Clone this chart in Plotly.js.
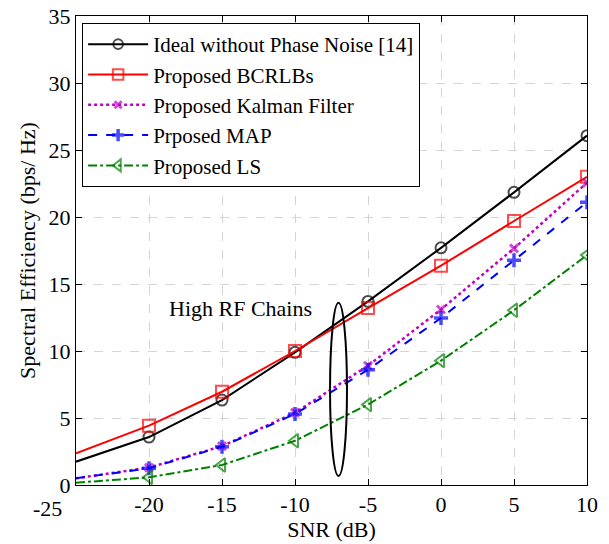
<!DOCTYPE html>
<html>
<head>
<meta charset="utf-8">
<script src="https://cdn.plot.ly/plotly-3.0.1.min.js"></script>
<style>html,body{margin:0;padding:0;background:#fff;} #chart{width:609px;height:544px;}</style>
</head>
<body>
<div id="chart"></div>
<script>
const snr = [-25, -20, -15, -10, -5, 0, 5, 10];
const ideal = [1.74, 3.58, 6.34, 9.9, 13.7, 17.7, 21.84, 26.07];
const bcrlb = [2.37, 4.43, 6.96, 10.0, 13.2, 16.37, 19.7, 23.0];
const kalman = [0.5, 1.3, 2.9, 5.4, 8.9, 13.1, 17.66, 22.56];
const map = [0.5, 1.25, 2.86, 5.3, 8.6, 12.46, 16.77, 21.1];
const ls = [0.17, 0.57, 1.49, 3.3, 6.0, 9.28, 13.04, 17.16];
const names = ['Ideal without Phase Noise [14]', 'Proposed BCRLBs', 'Proposed Kalman Filter', 'Prposed MAP', 'Proposed LS'];
const xTicks = [-25, -20, -15, -10, -5, 0, 5, 10];
const yTicks = [0, 5, 10, 15, 20, 25, 30, 35];

function sizes(s) { return snr.map((v, i) => i === 0 ? 0 : s); }

const font = 'Liberation Serif, Times New Roman, serif';
const FS = 22;
const traces = [
  {y: ideal, name: names[0], color: '#000000', dash: 'solid', symbol: 'circle-open', size: 11, lw: 2, mw: 2},
  {y: bcrlb, name: names[1], color: '#ff0000', dash: 'solid', symbol: 'square-open', size: 12, lw: 2, mw: 2},
  {y: kalman, name: names[2], color: '#c000c0', dash: 'dot', symbol: 'x-thin-open', size: 8, lw: 2.5, mw: 3},
  {y: map, name: names[3], color: '#0000ff', dash: 'dash', symbol: 'cross-thin-open', size: 10, lw: 2, mw: 3.5},
  {y: ls, name: names[4], color: '#008000', dash: 'dashdot', symbol: 'triangle-left-open', size: 12, lw: 2, mw: 2}
].map(t => ({
  x: snr, y: t.y, name: t.name, type: 'scatter', mode: 'lines+markers',
  line: {color: t.color, width: t.lw, dash: t.dash},
  marker: {symbol: t.symbol, size: sizes(t.size), color: t.color, line: {color: t.color, width: t.mw}}
}));

const layout = {
  width: 609, height: 544,
  margin: {l: 76, r: 22, t: 16, b: 59},
  paper_bgcolor: '#fff', plot_bgcolor: '#fff',
  font: {family: font, size: FS, color: '#000'},
  showlegend: true,
  legend: {x: 0.012, y: 0.985, xanchor: 'left', yanchor: 'top', bgcolor: '#fff',
    bordercolor: '#000', borderwidth: 1, itemwidth: 60, font: {family: font, size: 21, color: '#000'}},
  xaxis: {range: [-25, 10], tickvals: xTicks, ticktext: xTicks.map(v => v === -25 ? '' : String(v)),
    showgrid: true, gridcolor: '#d4d4d4', griddash: 'dash', gridwidth: 1,
    zeroline: false, showline: true, linecolor: '#000', linewidth: 1, mirror: 'ticks',
    ticks: 'inside', ticklen: 6, tickcolor: '#000',
    tickfont: {family: font, size: FS, color: '#000'},
    title: {text: 'SNR (dB)', font: {family: font, size: FS, color: '#000'}, standoff: 2}},
  yaxis: {range: [0, 35], tickvals: yTicks, ticktext: yTicks.map(String),
    showgrid: true, gridcolor: '#d4d4d4', griddash: 'dash', gridwidth: 1,
    zeroline: false, showline: true, linecolor: '#000', linewidth: 1, mirror: 'ticks',
    ticks: 'inside', ticklen: 6, tickcolor: '#000',
    tickfont: {family: font, size: FS, color: '#000'},
    title: {text: 'Spectral Efficiency (bps/ Hz)', font: {family: font, size: FS, color: '#000'}, standoff: 6}},
  shapes: [{type: 'circle', xref: 'x', yref: 'y', x0: -7.6, x1: -6.44, y0: 0.67, y1: 13.6,
    line: {color: '#000', width: 2}}],
  annotations: [
    {x: -13.7, y: 13.2, xref: 'x', yref: 'y', text: 'High RF Chains', showarrow: false,
      font: {family: font, size: FS, color: '#000'}},
    {x: 0, xref: 'paper', yref: 'paper', y: 0, yanchor: 'top', xanchor: 'center',
      text: String(xTicks[0]), showarrow: false, xshift: -29, yshift: -9,
      font: {family: font, size: FS, color: '#000'}}
  ]
};

Plotly.newPlot('chart', traces, layout, {displayModeBar: false, staticPlot: true});
</script>
</body>
</html>
